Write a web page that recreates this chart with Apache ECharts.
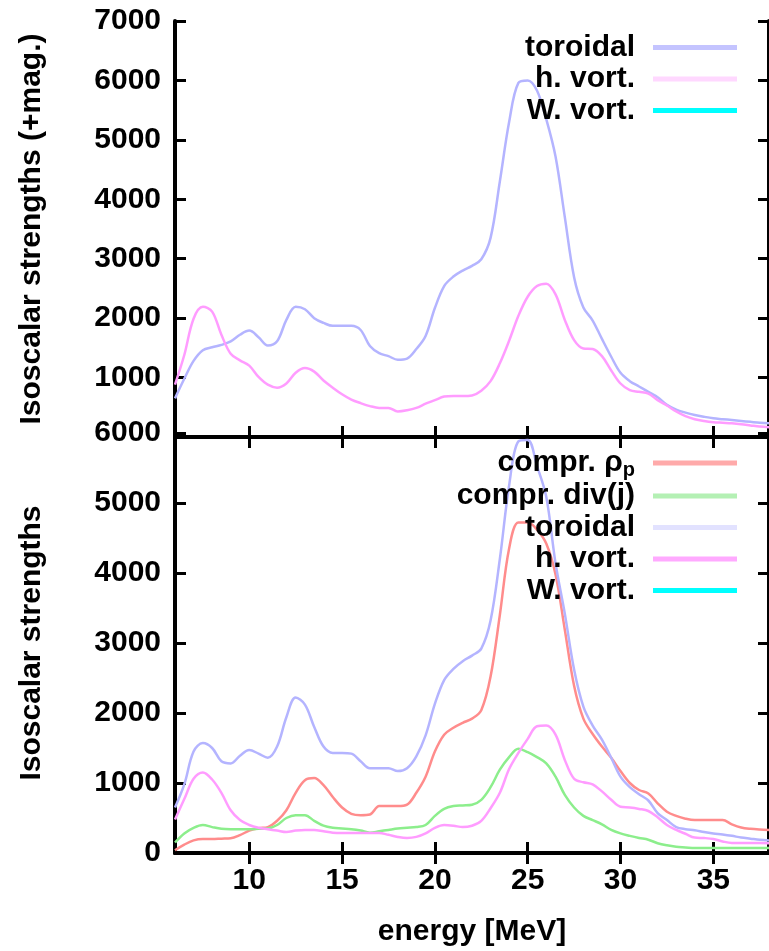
<!DOCTYPE html>
<html><head><meta charset="utf-8">
<script src="https://cdn.jsdelivr.net/npm/echarts@6/dist/echarts.min.js"></script>
<style>html,body{margin:0;padding:0;background:#fff}#c{width:769px;height:951px}</style>
</head><body><div id="c"></div>
<script>
const energy = [6,6.5,7,7.5,8,8.5,9,9.5,10,10.5,11,11.5,12,12.5,13,13.5,14,14.5,15,15.5,16,16.5,17,17.5,18,18.5,19,19.5,20,20.5,21,21.5,22,22.5,23,23.5,24,24.5,25,25.5,26,26.5,27,27.5,28,28.5,29,29.5,30,30.5,31,31.5,32,32.5,33,33.5,34,34.5,35,35.5,36,36.5,37,37.5,38];
const xTicks = [10,15,20,25,30,35];
const topYTicks = [0,1000,2000,3000,4000,5000,6000,7000];
const botYTicks = [0,1000,2000,3000,4000,5000,6000];

// top panel: isoscalar strengths (+mag.)
const topToroidal = [650,980,1280,1460,1510,1550,1610,1720,1790,1680,1540,1610,1970,2190,2150,2000,1920,1870,1870,1870,1800,1530,1410,1360,1300,1320,1480,1700,2170,2540,2700,2800,2880,2990,3350,4300,5300,5960,6000,5830,5350,4720,3700,2690,2180,1960,1650,1350,1080,940,850,760,670,540,460,410,370,340,315,300,285,270,255,240,230];
const topHVort = [880,1380,1990,2190,2110,1720,1400,1290,1200,1010,880,830,900,1080,1160,1100,950,830,720,630,570,520,490,490,430,450,490,560,620,680,690,690,700,780,940,1240,1620,2040,2360,2540,2580,2400,1970,1630,1490,1480,1360,1120,900,790,760,730,620,530,430,350,300,270,250,240,230,215,195,175,165];
const topWVort = [];

// bottom panel: isoscalar strengths
const botComprRho = [40,120,180,200,200,205,210,255,320,355,370,460,610,860,1040,1070,970,800,650,560,540,550,670,670,670,690,860,1090,1450,1690,1790,1860,1920,2040,2520,3400,4350,4720,4720,4620,4420,3980,3190,2390,1920,1700,1520,1360,1170,1000,900,850,710,590,530,490,470,470,470,470,410,365,345,335,330];
const botComprDiv = [150,280,360,400,370,345,340,340,340,345,350,400,500,540,540,460,390,360,350,340,320,290,310,330,350,360,370,400,530,630,670,680,690,760,940,1190,1370,1490,1440,1370,1280,1090,830,650,530,470,410,330,280,245,215,190,140,110,90,80,70,70,70,70,70,70,70,70,70];
const botToroidal = [650,980,1450,1570,1500,1310,1280,1390,1470,1420,1360,1520,1940,2220,2120,1800,1520,1430,1430,1420,1310,1210,1210,1210,1170,1210,1380,1680,2130,2470,2630,2740,2820,2920,3320,4200,5250,5880,5900,5530,5090,4140,3420,2620,2090,1820,1620,1360,1090,940,840,750,570,470,370,340,325,300,280,265,245,220,205,190,180];
const botHVort = [480,770,1060,1150,1050,860,610,470,400,360,340,320,300,320,330,330,310,290,285,285,285,285,285,260,230,215,230,280,360,400,390,370,390,460,640,860,1200,1430,1630,1810,1820,1690,1330,1060,1010,980,880,760,660,650,630,600,510,400,330,275,220,214,200,165,143,143,143,143,140];
const botWVort = [];

const FONT = 'Liberation Sans';
const pairs = v => v.map((y, i) => [energy[i], y]);

const labelStyle = {fontFamily: FONT, fontWeight: 'bold', fontSize: 30, color: '#000'};
const lineAx = {show: true, lineStyle: {color: '#000', width: 4}};
const tickIn = {show: true, inside: true, length: 11, lineStyle: {color: '#000', width: 3}};

function xAx(grid, pos, labels) {
  return {
    type: 'value', gridIndex: grid, position: pos, min: 6, max: 38,
    splitLine: {show: false}, axisLine: lineAx,
    axisTick: Object.assign({customValues: xTicks}, tickIn),
    axisLabel: Object.assign({show: labels, customValues: xTicks, margin: 13, formatter: v => String(v)}, labelStyle),
    name: (labels && grid === 1) ? 'energy [MeV]' : '',
    nameLocation: 'middle', nameGap: 64,
    nameTextStyle: labelStyle
  };
}
function yAx(grid, pos, max, ticks, labels, name, showMin) {
  return {
    type: 'value', gridIndex: grid, position: pos, min: 0, max: max, interval: 1000,
    splitLine: {show: false}, axisLine: lineAx,
    axisTick: Object.assign({customValues: ticks}, tickIn),
    axisLabel: Object.assign({show: labels, margin: 14, showMinLabel: showMin, formatter: v => String(v)}, labelStyle),
    name: name, nameLocation: 'middle', nameRotate: 90, nameGap: 128,
    nameTextStyle: labelStyle
  };
}

const C = {tor: '#b4b4ff', hv: '#ff9cff', wv: '#00ffff', rho: '#ff8c8c', div: '#8cee8c'};
function ser(name, data, color, gi) {
  return {
    name: name, type: 'line', xAxisIndex: gi * 2, yAxisIndex: gi * 2,
    data: pairs(data), showSymbol: false, smooth: 0.35,
    lineStyle: {color: color, width: 2.5}, itemStyle: {color: color}
  };
}

const display = {
  't_tor': 'toroidal', 't_hv': 'h. vort.', 't_wv': 'W. vort.',
  'b_rho': 'compr. ρ{s|p}', 'b_div': 'compr. div(j)', 'b_tor': 'toroidal', 'b_hv': 'h. vort.', 'b_wv': 'W. vort.'
};
const legBase = {
  orient: 'vertical', align: 'right', right: 27, itemWidth: 84, itemHeight: 5,
  itemGap: 0.5, icon: 'rect', selectedMode: false,
  textStyle: Object.assign({lineHeight: 31, padding: [0, 13, 0, 0],
    rich: {s: {fontFamily: FONT, fontWeight: 'bold', fontSize: 20, padding: [14, 0, 0, 0], lineHeight: 31}}}, labelStyle),
  formatter: n => display[n]
};

const option = {
  animation: false,
  backgroundColor: '#fff',
  grid: [
    {left: 175, right: -3, top: 21, height: 416},
    {left: 175, right: -3, top: 433, height: 420}
  ],
  xAxis: [xAx(0, 'bottom', false), xAx(0, 'top', false), xAx(1, 'bottom', true), xAx(1, 'top', false)],
  yAxis: [
    yAx(0, 'left', 7000, topYTicks, true, 'Isoscalar strengths (+mag.)', false),
    yAx(0, 'right', 7000, topYTicks, false, '', false),
    yAx(1, 'left', 6000, botYTicks, true, 'Isoscalar strengths', true),
    yAx(1, 'right', 6000, botYTicks, false, '', false)
  ],
  legend: [
    Object.assign({}, legBase, {top: 27, data: [
      {name: 't_tor', itemStyle: {color: '#c4c4ff'}},
      {name: 't_hv', itemStyle: {color: '#ffd8ff'}},
      {name: 't_wv', itemStyle: {color: '#00ffff'}}
    ]}),
    Object.assign({}, legBase, {top: 441, data: [
      {name: 'b_rho', itemStyle: {color: '#ffaaaa'}},
      {name: 'b_div', itemStyle: {color: '#b4f0b4'}},
      {name: 'b_tor', itemStyle: {color: '#e2e2ff'}},
      {name: 'b_hv', itemStyle: {color: '#ffaaff'}},
      {name: 'b_wv', itemStyle: {color: '#00ffff'}}
    ]})
  ],
  series: [
    ser('t_tor', topToroidal, C.tor, 0),
    ser('t_hv', topHVort, C.hv, 0),
    ser('t_wv', topWVort, C.wv, 0),
    ser('b_rho', botComprRho, C.rho, 1),
    ser('b_div', botComprDiv, C.div, 1),
    ser('b_tor', botToroidal, C.tor, 1),
    ser('b_hv', botHVort, C.hv, 1),
    ser('b_wv', botWVort, C.wv, 1)
  ]
};
echarts.init(document.getElementById('c')).setOption(option);
</script></body></html>
